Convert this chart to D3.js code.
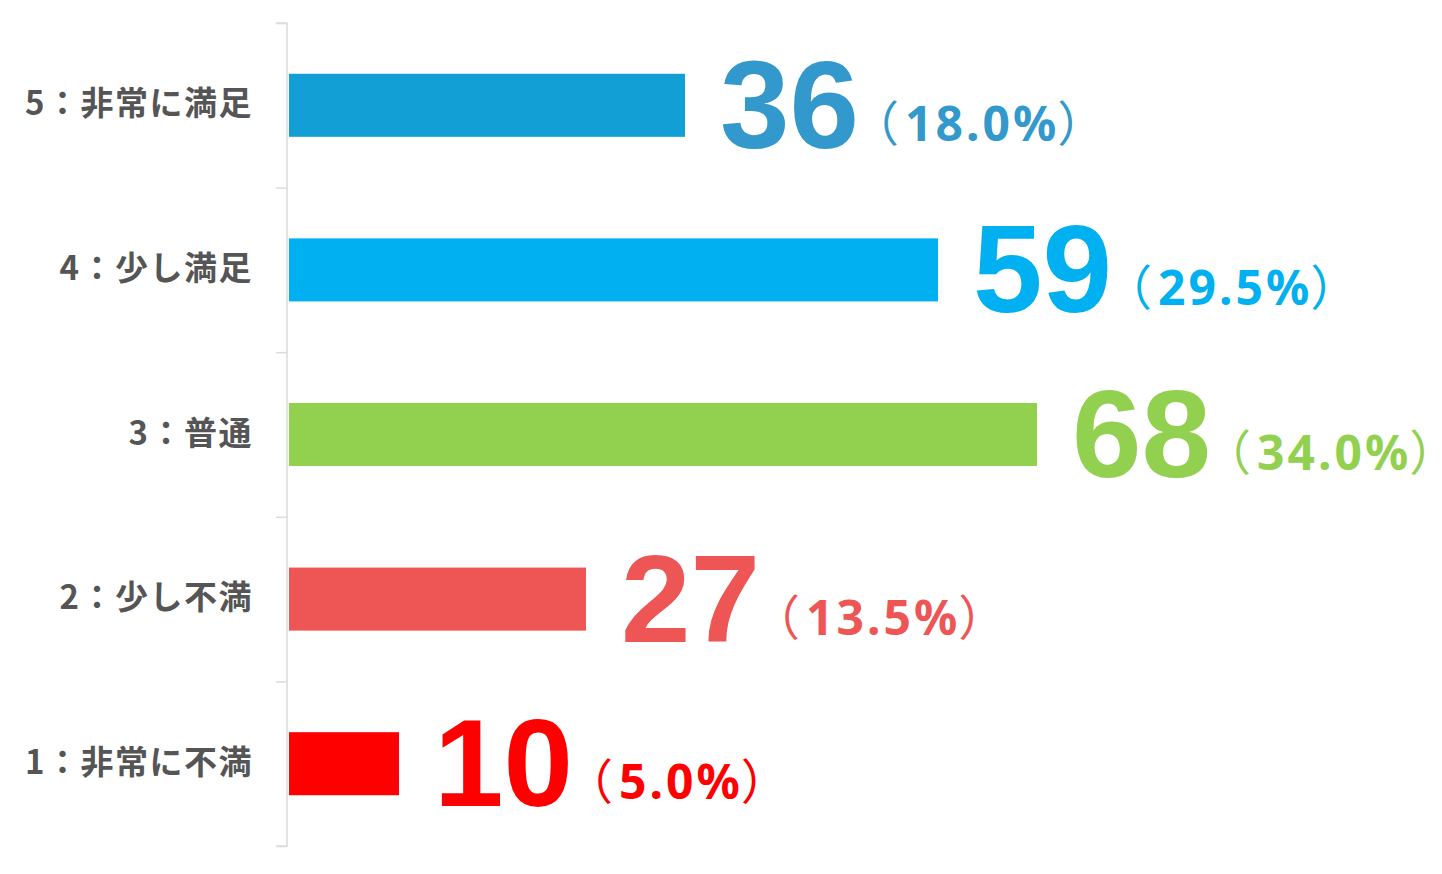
<!DOCTYPE html>
<html><head><meta charset="utf-8">
<script src="https://cdn.jsdelivr.net/npm/d3@7"></script>
<style>html,body{margin:0;padding:0;background:#fff;}</style>
</head><body>
<svg id="chart" width="1442" height="874"></svg>
<script>
const categories = ["5：非常に満足", "4：少し満足", "3：普通", "2：少し不満", "1：非常に不満"];
const values = [36, 59, 68, 27, 10];
const percents = ["18.0%", "29.5%", "34.0%", "13.5%", "5.0%"];
const barColors = ["#119fd6", "#00b0f0", "#92d050", "#ee5555", "#ff0000"];
const labelColors = ["#3399cc", "#00b0f0", "#92d050", "#ee5555", "#ff0000"];

const svg = d3.select("#chart");
const x = d3.scaleLinear().domain([0, 100]).range([289, 1389]);
const y = d3.scaleBand().domain(categories).range([23, 846]).paddingInner(0.617).paddingOuter(0.3085);

// axis
const axis = d3.axisLeft(d3.scaleLinear().domain([0,5]).range([23,846])).ticks(5).tickSize(11).tickFormat("");
const ag = svg.append("g").attr("transform", "translate(287,0)").call(axis);
ag.selectAll("path,line").attr("stroke", "#e0dcdc").attr("stroke-width", 1.6);
ag.select(".domain").attr("d", "M-11,23H0V846H-11");

svg.append("g").selectAll("rect").data(values).join("rect")
  .attr("x", x(0))
  .attr("y", (d,i) => y(categories[i]))
  .attr("width", d => x(d) - x(0))
  .attr("height", y.bandwidth())
  .attr("fill", (d,i) => barColors[i]);

svg.append("g").selectAll("text").data(categories).join("text")
  .attr("x", 253)
  .attr("y", d => y(d) + y.bandwidth()/2 + 10)
  .attr("text-anchor", "end")
  .attr("font-family", "'Noto Sans CJK JP', sans-serif")
  .attr("font-weight", "bold")
  .attr("font-size", 33)
  .attr("letter-spacing", 1.5)
  .attr("fill", "#555")
  .text(d => d);

const vl = svg.append("g").selectAll("text").data(values).join("text")
  .attr("x", d => x(d) + 35)
  .attr("y", (d,i) => y(categories[i]) + y.bandwidth()/2 + 42.5)
  .attr("fill", (d,i) => labelColors[i]);
vl.append("tspan")
  .attr("font-family", "'Liberation Sans', Arial, sans-serif")
  .attr("font-weight", "bold")
  .attr("font-size", 125)
  .text(d => d);
vl.append("tspan")
  .attr("dy", -7)
  .attr("dx", -8)
  .attr("font-family", "'Noto Sans CJK JP', sans-serif")
  .attr("font-size", 48)
  .text("（");
vl.append("tspan")
  .attr("dx", 6)
  .attr("font-family", "'Noto Sans', sans-serif")
  .attr("font-weight", "bold")
  .attr("font-size", 48)
  .attr("letter-spacing", 3)
  .text((d,i) => percents[i]);
vl.append("tspan")
  .attr("dx", -2)
  .attr("font-family", "'Noto Sans CJK JP', sans-serif")
  .attr("font-size", 48)
  .text("）");
</script>
</body></html>
